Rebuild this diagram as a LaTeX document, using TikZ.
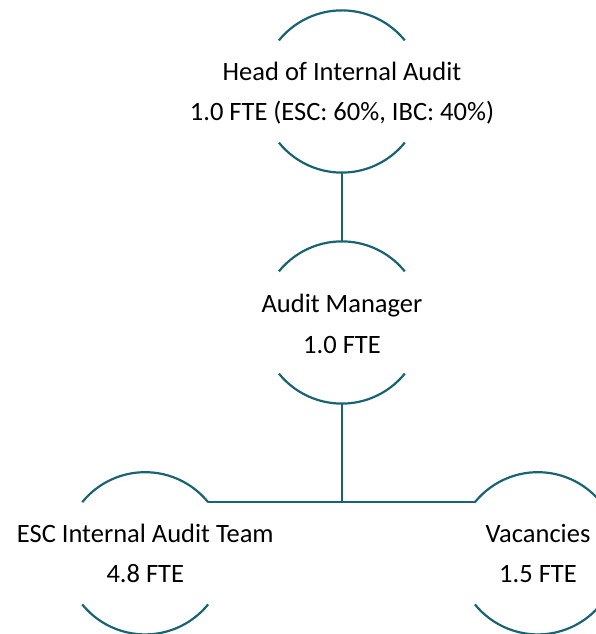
\documentclass[tikz,border=0pt]{standalone}
\usepackage{fontspec}
\setmainfont{Carlito}
\definecolor{teal1}{RGB}{24,100,116}
\begin{document}
\begin{tikzpicture}[x=1pt,y=1pt,
  ring/.style={circle,draw=none,minimum size=162pt,inner sep=0pt},
  lbl/.style={align=center,inner sep=0pt,font=\fontsize{26.5}{40.5}\selectfont,text=black},
  link/.style={draw=teal1,line width=2.2pt}]
\useasboundingbox (0,0) rectangle (596,634);
\node[ring] (headc) at (342,542.5) {};
\node[ring] (mgrc) at (342,311.5) {};
\node[ring] (escc) at (145.3,80.7) {};
\node[ring] (vacc) at (538,80.7) {};
\foreach \n in {headc,mgrc,escc,vacc}{
  \draw[link] (\n.141) arc[start angle=141,end angle=39,radius=81pt];
  \draw[link] (\n.219) arc[start angle=219,end angle=321,radius=81pt];
}
\node[lbl] (head) at (342,541) {Head of Internal Audit\\1.0 FTE (ESC: 60\%, IBC: 40\%)};
\node[lbl] (mgr) at (342,310) {Audit Manager\\1.0 FTE};
\node[lbl] (esc) at (145.3,80.5) {ESC Internal Audit Team\\4.8 FTE};
\node[lbl] (vac) at (538,80.5) {Vacancies\\1.5 FTE};
\draw[link] (headc.south) -- (mgrc.north);
\coordinate (junc) at (mgrc.south |- escc.39);
\draw[link] (mgrc.south) -- (junc);
\draw[link] (escc.39) -- (vacc.141);
\end{tikzpicture}
\end{document}
